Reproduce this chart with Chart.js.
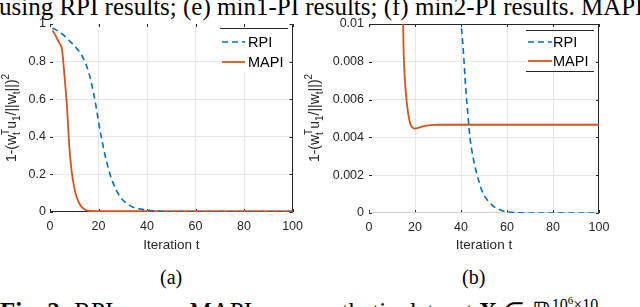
<!DOCTYPE html>
<html><head><meta charset="utf-8">
<script src="https://cdn.jsdelivr.net/npm/chart.js@4.4.0/dist/chart.umd.min.js"></script>
<style>
html,body{margin:0;padding:0;background:#fff;width:640px;height:307px;overflow:hidden;position:relative;}
.t{position:absolute;white-space:nowrap;font-family:"Liberation Serif","Times New Roman",serif;color:#000;}
canvas{position:absolute;}
</style></head><body>
<div class="t" style="left:-1px;top:-6px;font-size:25px;line-height:25px;">using RPI results; (e) min1-PI results; (f) min2-PI results. MAPI results</div>
<canvas id="ca" width="310" height="256" style="left:0;top:0"></canvas>
<canvas id="cb" width="340" height="256" style="left:300px;top:0"></canvas>
<div class="t" style="left:160px;top:267px;font-size:20px;line-height:20px;">(a)</div>
<div class="t" style="left:462px;top:267px;font-size:20px;line-height:20px;">(b)</div>
<div class="t" style="left:0px;top:288px;font-size:25px;line-height:25px;"><b>Fig. 2:</b> RPI versus MAPI on a synthetic dataset <b>X</b> &isin; &#8477;<sup style="font-size:16px">10<sup style="font-size:11px">6</sup>&times;10</sup></div>
<script>
// ---- data ----
const seriesNames = ['RPI', 'MAPI'];
const rpiIter = [1,2,3,4,5,6,7,8,9,10,11,12,13,14,15,16,17,18,19,20,21,22,23,24,25,26,27,28,29,30,31,32,33,34,35,36,37,38,39,40,41,42,43,44,45,46,47,48,49,50,52,54,56,58,60,63,66,70,80,90,100];
const rpiErr  = [0.978,0.972,0.965,0.957,0.947,0.936,0.924,0.911,0.898,0.885,0.87,0.855,0.835,0.81,0.78,0.74,0.69,0.63,0.56,0.48,0.41,0.345,0.285,0.235,0.19,0.155,0.125,0.1,0.08,0.064,0.052,0.042,0.034,0.027,0.022,0.019,0.0165,0.014,0.012,0.0101,0.0086,0.0067,0.0052,0.0039,0.0031,0.0025,0.002,0.0016,0.0012,0.00095,0.0006,0.00037,0.00022,0.00012,0.00006,0.00002,0.00001,0,0,0,0];
const mapiIter = [1,2,3,4,5,6,7,8,9,10,11,12,13,14,15,16,17,18,19,20,21,22,23,24,26,28,30,40,60,80,100];
const mapiErr  = [0.965,0.945,0.92,0.895,0.86,0.72,0.56,0.34,0.21,0.13,0.08,0.048,0.028,0.016,0.0088,0.0064,0.0053,0.0047,0.00452,0.00447,0.00449,0.00453,0.00457,0.0046,0.00464,0.00466,0.00467,0.00467,0.00467,0.00467,0.00467];
const xTickLabels  = ['0','20','40','60','80','100'];
const yTickLabelsA = ['0','0.2','0.4','0.6','0.8','1'];
const yTickLabelsB = ['0','0.002','0.004','0.006','0.008','0.01'];
const xTitle = 'Iteration t';

const FONT = '"Liberation Sans", Arial, Helvetica, sans-serif';
const AX = '#262626';
const BLUE = '#0072BD', ORANGE = '#D95319';

const framePlugin = {
  id: 'frame',
  beforeDatasetsDraw(chart, args, o) {
    const {ctx, chartArea: a} = chart;
    const xs = chart.scales.x, ys = chart.scales.y;
    const L = 3;
    ctx.save();
    ctx.lineWidth = 1;
    ctx.strokeStyle = AX;
    ctx.beginPath();
    xs.ticks.forEach(t => {
      const px = Math.round(xs.getPixelForValue(t.value)) + 0.5;
      ctx.moveTo(px, a.bottom); ctx.lineTo(px, a.bottom - L);
      ctx.moveTo(px, a.top); ctx.lineTo(px, a.top + L);
    });
    ys.ticks.forEach(t => {
      const py = Math.round(ys.getPixelForValue(t.value)) + 0.5;
      ctx.moveTo(a.left, py); ctx.lineTo(a.left + L, py);
      ctx.moveTo(a.right, py); ctx.lineTo(a.right - L, py);
    });
    ctx.stroke();
    const side = (c, x1, y1, x2, y2) => { if (!c) return; ctx.strokeStyle = c; ctx.beginPath(); ctx.moveTo(x1, y1); ctx.lineTo(x2, y2); ctx.stroke(); };
    const l = Math.round(a.left) + 0.5, r = Math.round(a.right) - 0.5, t = Math.round(a.top) + 0.5, b = Math.round(a.bottom) - 0.5;
    side(o.top, l, t, r, t);
    side(o.bottom, l, b, r, b);
    side(o.left, l, t, l, b);
    side(o.right, r, t, r, b);
    ctx.restore();
  }
};

const legendPlugin = {
  id: 'mleg',
  afterDatasetsDraw(chart, args, o) {
    const ctx = chart.ctx;
    ctx.save();
    ctx.fillStyle = '#fff';
    ctx.fillRect(o.x1, o.top, o.x2 - o.x1, o.bottom - o.top);
    ctx.strokeStyle = AX; ctx.lineWidth = 1;
    ctx.beginPath();
    ctx.moveTo(o.x1, o.top + 0.5); ctx.lineTo(o.x2, o.top + 0.5);
    if (o.drawBottom) { ctx.moveTo(o.x1, o.bottom - 0.5); ctx.lineTo(o.x2, o.bottom - 0.5); }
    ctx.stroke();
    chart.data.datasets.forEach((ds, i) => {
      const y = o.rows[i];
      ctx.strokeStyle = ds.borderColor; ctx.lineWidth = ds.borderWidth;
      ctx.setLineDash(ds.borderDash || []);
      ctx.beginPath(); ctx.moveTo(o.lx1, y); ctx.lineTo(o.lx2, y); ctx.stroke();
      ctx.setLineDash([]);
      ctx.fillStyle = '#000';
      ctx.font = o.fontSize + 'px ' + FONT;
      ctx.textBaseline = 'middle'; ctx.textAlign = 'left';
      ctx.fillText(ds.label, o.tx, y + 1);
    });
    ctx.restore();
  }
};

const yLabelSegs = [
  {t:'n', s:'1-(w'}, {t:'ss', sub:'t', sup:'T'}, {t:'n', s:'u'}, {t:'sub', s:'1'},
  {t:'n', s:'/||w'}, {t:'sub', s:'t'}, {t:'n', s:'||)'}, {t:'sup', s:'2'}
];
const yLabelPlugin = {
  id: 'ylab',
  afterDraw(chart, args, o) {
    const ctx = chart.ctx;
    const main = o.size, sc = o.scriptSize;
    const f = s => s + 'px ' + FONT;
    ctx.save();
    const widths = yLabelSegs.map(s => {
      if (s.t === 'n') { ctx.font = f(main); return ctx.measureText(s.s).width; }
      ctx.font = f(sc);
      if (s.t === 'ss') return Math.max(ctx.measureText(s.sub).width, ctx.measureText(s.sup).width);
      return ctx.measureText(s.s).width;
    });
    const total = widths.reduce((a, b) => a + b, 0);
    ctx.translate(o.x, o.y);
    ctx.rotate(-Math.PI / 2);
    ctx.fillStyle = AX; ctx.textBaseline = 'alphabetic'; ctx.textAlign = 'left';
    let x = -total / 2;
    const subOff = 4, supOff = 7;
    yLabelSegs.forEach((s, i) => {
      if (s.t === 'n') { ctx.font = f(main); ctx.fillText(s.s, x, 0); }
      else if (s.t === 'sub') { ctx.font = f(sc); ctx.fillText(s.s, x, subOff); }
      else if (s.t === 'sup') { ctx.font = f(sc); ctx.fillText(s.s, x, -supOff); }
      else { ctx.font = f(sc); ctx.fillText(s.sub, x, subOff); ctx.fillText(s.sup, x, -supOff); }
      x += widths[i];
    });
    ctx.restore();
  }
};

function pts(xs, ys) { return xs.map((x, i) => ({x: x, y: ys[i]})); }

function makeChart(id, cfg) {
  const gridColor = c => (c.index === 0 || c.index === c.scale.ticks.length - 1) ? 'rgba(0,0,0,0)' : '#e6e6e6';
  return new Chart(document.getElementById(id), {
    type: 'line',
    data: {
      datasets: [
        {label: seriesNames[0], data: pts(rpiIter, rpiErr), borderColor: BLUE, borderWidth: 1.6, borderDash: [6, 4], pointRadius: 0, cubicInterpolationMode: 'monotone', fill: false},
        {label: seriesNames[1], data: pts(mapiIter, mapiErr), borderColor: ORANGE, borderWidth: 1.8, pointRadius: 0, cubicInterpolationMode: 'monotone', fill: false}
      ]
    },
    options: {
      responsive: false, animation: false, devicePixelRatio: 1,
      layout: {padding: {top: cfg.padTop, right: cfg.padRight, left: 0, bottom: 0}},
      plugins: {
        legend: {display: false}, tooltip: {enabled: false},
        frame: cfg.frame,
        mleg: cfg.legend,
        ylab: cfg.ylab
      },
      scales: {
        x: {
          type: 'linear', min: 0, max: 100,
          afterFit: s => { s.height = cfg.xHeight; },
          border: {display: false},
          grid: {color: gridColor, drawTicks: false, lineWidth: 1},
          ticks: {stepSize: 20, autoSkip: false, maxRotation: 0, padding: 7, color: AX,
            font: {family: FONT, size: 12.5},
            callback: (v, i) => xTickLabels[i]},
          title: {display: true, text: xTitle, color: AX, font: {family: FONT, size: 13.5}, padding: {top: 2, bottom: 3}}
        },
        y: {
          type: 'linear', min: 0, max: cfg.yMax,
          afterFit: s => { s.width = cfg.yWidth; },
          border: {display: false},
          grid: {color: gridColor, drawTicks: false, lineWidth: 1},
          ticks: {stepSize: cfg.yStep, autoSkip: false, padding: cfg.yPad, color: AX,
            font: {family: FONT, size: 12.5},
            callback: (v, i) => cfg.yLabels[i]}
        }
      }
    },
    plugins: [framePlugin, legendPlugin, yLabelPlugin]
  });
}

makeChart('ca', {
  padTop: 24, padRight: 17, xHeight: 44, yWidth: 50, yMax: 1, yStep: 0.2, yPad: 4, yLabels: yTickLabelsA,
  frame: {top: null, bottom: AX, left: null, right: AX},
  legend: {x1: 220, x2: 288, top: 28, bottom: 72, drawBottom: false, lx1: 222, lx2: 245, tx: 248, rows: [42, 62], fontSize: 14.5},
  ylab: {x: 16, y: 118, size: 14, scriptSize: 10}
});
makeChart('cb', {
  padTop: 24, padRight: 41, xHeight: 43, yWidth: 69, yMax: 0.01, yStep: 0.002, yPad: 5, yLabels: yTickLabelsB,
  frame: {top: AX, bottom: '#cfcfcf', left: null, right: AX},
  legend: {x1: 226, x2: 294, top: 30, bottom: 72, drawBottom: true, lx1: 228, lx2: 252, tx: 253, rows: [42, 61], fontSize: 14.5},
  ylab: {x: 19, y: 118, size: 14, scriptSize: 10}
});
</script>
</body></html>
